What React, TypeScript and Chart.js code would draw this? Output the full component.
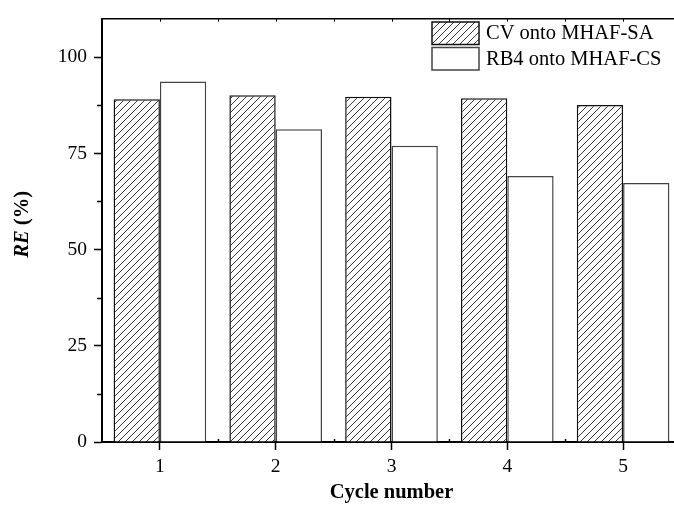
import React, { useEffect, useRef } from 'react';
import { Chart, registerables } from 'chart.js';

Chart.register(...registerables);

// Removal efficiency per adsorption/desorption cycle
const cycles = ['1', '2', '3', '4', '5'];
const cvValues = [89.1, 90.1, 89.7, 89.3, 87.6];
const rb4Values = [93.7, 81.3, 77.0, 69.1, 67.3];
const seriesNames = ['CV onto MHAF-SA', 'RB4 onto MHAF-CS'];
const yMajorTicks = [0, 25, 50, 75, 100];
const yMinorTicks = [12.5, 37.5, 62.5, 87.5];

const SERIF = '"Liberation Serif", "Times New Roman", serif';

function makeHatch(): CanvasPattern | string {
  const n = 7;
  const tile = document.createElement('canvas');
  tile.width = n;
  tile.height = n;
  const c = tile.getContext('2d');
  if (!c) return '#ffffff';
  c.fillStyle = '#ffffff';
  c.fillRect(0, 0, n, n);
  c.strokeStyle = '#222222';
  c.lineWidth = 0.9;
  c.beginPath();
  c.moveTo(-1, n + 1);
  c.lineTo(n + 1, -1);
  c.moveTo(-n - 1, 1);
  c.lineTo(1, -n - 1);
  c.moveTo(n - 1, 2 * n + 1);
  c.lineTo(2 * n + 1, n - 1);
  c.stroke();
  const p = c.createPattern(tile, 'repeat');
  return p || '#ffffff';
}

export default function App() {
  const canvasRef = useRef<HTMLCanvasElement | null>(null);

  useEffect(() => {
    const canvas = canvasRef.current;
    if (!canvas) return;
    const hatch = makeHatch();

    const frame = {
      id: 'frameAndLegend',
      afterDraw(chart: any) {
        const { ctx, chartArea } = chart;
        const xs = chart.scales.x;
        const ys = chart.scales.y;
        const { left, right, top, bottom } = chartArea;
        ctx.save();
        ctx.strokeStyle = '#000';

        // top frame line with small inward ticks
        ctx.lineWidth = 1.5;
        ctx.beginPath();
        ctx.moveTo(left, top);
        ctx.lineTo(right + 2, top);
        ctx.stroke();
        ctx.lineWidth = 1;
        ctx.beginPath();
        for (let i = 0; i < cycles.length; i++) {
          const px = Math.round(xs.getPixelForValue(i)) + 0.5;
          ctx.moveTo(px, top);
          ctx.lineTo(px, top + 3);
          const mx = Math.round(xs.getPixelForValue(i + 0.5)) + 0.5;
          ctx.moveTo(mx, top);
          ctx.lineTo(mx, top + 3);
        }
        ctx.stroke();

        // minor ticks on the y axis
        ctx.lineWidth = 1.5;
        ctx.beginPath();
        yMinorTicks.forEach((v) => {
          const py = Math.round(ys.getPixelForValue(v)) + 0.5;
          ctx.moveTo(left - 5, py);
          ctx.lineTo(left, py);
        });
        ctx.stroke();

        // minor ticks on the x axis, between cycles
        ctx.beginPath();
        for (let i = 0; i < cycles.length - 1; i++) {
          const mx = Math.round(xs.getPixelForValue(i + 0.5)) + 0.5;
          ctx.moveTo(mx, bottom);
          ctx.lineTo(mx, bottom - 3);
        }
        ctx.stroke();

        // y axis title: italic "RE" followed by " (%)"
        const titleSize = 20.5;
        ctx.fillStyle = '#000';
        ctx.translate(23, (top + bottom) / 2 - 6);
        ctx.rotate(-Math.PI / 2);
        ctx.textBaseline = 'middle';
        ctx.textAlign = 'left';
        const italicFont = `italic bold ${titleSize}px ${SERIF}`;
        const plainFont = `bold ${titleSize}px ${SERIF}`;
        ctx.font = italicFont;
        const w1 = ctx.measureText('RE').width;
        ctx.font = plainFont;
        const w2 = ctx.measureText(' (%)').width;
        const start = -(w1 + w2) / 2;
        ctx.font = italicFont;
        ctx.fillText('RE', start, 0);
        ctx.font = plainFont;
        ctx.fillText(' (%)', start + w1, 0);
        ctx.setTransform(1, 0, 0, 1, 0, 0);

        // legend
        const boxX = 432;
        const boxW = 47;
        const boxH = 22.5;
        const rows = [22, 47.5];
        ctx.font = `20.5px ${SERIF}`;
        ctx.textBaseline = 'middle';
        chart.data.datasets.forEach((ds: any, i: number) => {
          const by = rows[i];
          ctx.fillStyle = ds.backgroundColor;
          ctx.fillRect(boxX, by, boxW, boxH);
          ctx.strokeStyle = ds.borderColor;
          ctx.lineWidth = 1.5;
          ctx.strokeRect(boxX, by, boxW, boxH);
          ctx.fillStyle = '#000';
          ctx.fillText(ds.label, 486, by + boxH / 2 + 0.5);
        });
        ctx.restore();
      },
    };

    const chart = new Chart(canvas, {
      type: 'bar',
      data: {
        labels: cycles,
        datasets: [
          {
            label: seriesNames[0],
            data: cvValues,
            backgroundColor: hatch as any,
            borderColor: '#111111',
            borderWidth: 1.5,
            categoryPercentage: 0.8,
            barPercentage: 1.0,
          },
          {
            label: seriesNames[1],
            data: rb4Values,
            backgroundColor: '#ffffff',
            borderColor: '#444444',
            borderWidth: 1.5,
            categoryPercentage: 0.8,
            barPercentage: 1.0,
          },
        ],
      },
      options: {
        responsive: false,
        animation: false,
        devicePixelRatio: 1,
        layout: { padding: { top: 16, right: 9, left: 0, bottom: 0 } },
        plugins: {
          legend: { display: false },
          tooltip: { enabled: false },
        },
        scales: {
          x: {
            grid: {
              display: true,
              drawOnChartArea: false,
              drawTicks: true,
              offset: false,
              tickLength: 8,
              tickWidth: 1.5,
              tickColor: '#000',
            },
            border: { display: true, color: '#000', width: 2 },
            ticks: {
              color: '#000',
              padding: 5,
              font: { family: SERIF, size: 19.5 },
              maxRotation: 0,
            },
            title: {
              display: true,
              text: 'Cycle number',
              color: '#000',
              font: { family: SERIF, size: 20.5, weight: 'bold' },
              padding: { top: 0, bottom: 0 },
            },
            afterFit(scale: any) {
              scale.height = 63;
            },
          },
          y: {
            min: 0,
            max: 110,
            afterBuildTicks(scale: any) {
              scale.ticks = yMajorTicks.map((v) => ({ value: v }));
            },
            grid: {
              display: true,
              drawOnChartArea: false,
              drawTicks: true,
              tickLength: 8,
              tickWidth: 1.5,
              tickColor: '#000',
            },
            border: { display: true, color: '#000', width: 2 },
            ticks: {
              color: '#000',
              padding: 7,
              font: { family: SERIF, size: 19.5 },
            },
            afterFit(scale: any) {
              scale.width = 102;
            },
          },
        },
      },
      plugins: [frame],
    });

    return () => {
      chart.destroy();
    };
  }, []);

  return (
    <div
      style={{
        position: 'absolute',
        left: 0,
        top: 0,
        width: 674,
        height: 505,
        overflow: 'hidden',
        background: '#fff',
      }}
    >
      <canvas ref={canvasRef} width={690} height={505} style={{ display: 'block', width: 690, height: 505 }} />
    </div>
  );
}
